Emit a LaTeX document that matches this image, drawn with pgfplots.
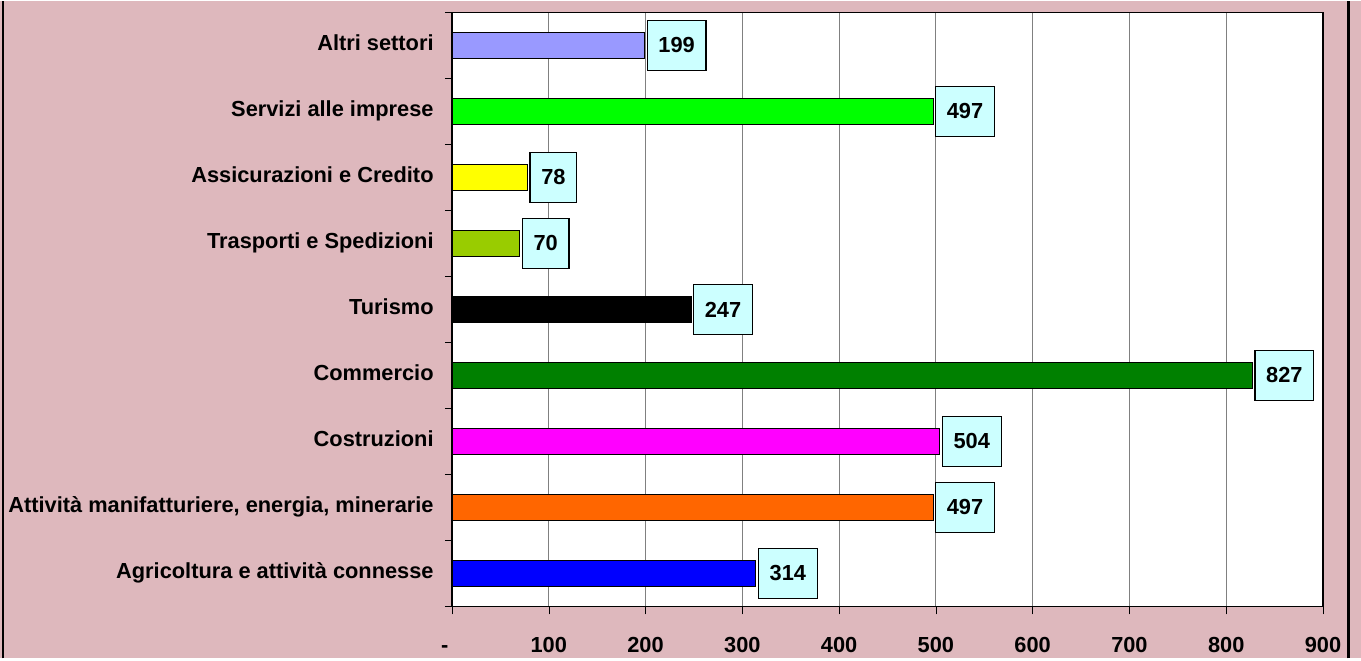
\documentclass[border=0pt]{standalone}
\usepackage{pgfplots}
\pgfplotsset{compat=1.18}
\usepackage{fontspec}
\setmainfont{Liberation Sans}
\definecolor{bgpink}{RGB}{222,184,189}
\definecolor{boxcyan}{RGB}{204,255,255}
\definecolor{cAltri}{RGB}{153,153,255}
\definecolor{cServizi}{RGB}{0,255,0}
\definecolor{cAssic}{RGB}{255,255,0}
\definecolor{cTrasp}{RGB}{153,204,0}
\definecolor{cTurismo}{RGB}{0,0,0}
\definecolor{cComm}{RGB}{0,128,0}
\definecolor{cCostr}{RGB}{255,0,255}
\definecolor{cManif}{RGB}{255,102,0}
\definecolor{cAgri}{RGB}{0,0,255}
\begin{document}
\begin{tikzpicture}
% sfondo e cornice (1 px = 0.5pt, origine = angolo sud-ovest dell'area del grafico)
\fill[bgpink] (-226pt,-26pt) rectangle (454.5pt,302.5pt);
\draw[line width=1.2pt] (-224.5pt,-26pt) -- (-224.5pt,302.5pt);
\draw[line width=1.4pt] (448.2pt,-26pt) -- (448.2pt,302.5pt);
\begin{axis}[
    at={(0pt,0pt)}, anchor=south west,
    scale only axis,
    width=435.5pt, height=297pt,
    font=\fontsize{10.9}{12.7}\selectfont\bfseries,
    /pgf/number format/assume math mode=true,
    axis background/.style={fill=white},
    xbar, bar width=13pt, bar shift=0pt,
    xmin=0, xmax=900,
    ymin=-0.5, ymax=8.5,
    xtick={0,100,...,900},
    xticklabels={\llap{-\,},100,200,300,400,500,600,700,800,900},
    ytick={0,...,8},
    yticklabels={Agricoltura e attività connesse,
        {Attività manifatturiere, energia, minerarie},
        Costruzioni, Commercio, Turismo,
        Trasporti e Spedizioni, Assicurazioni e Credito,
        Servizi alle imprese, Altri settori},
    minor ytick={-0.5,0.5,...,8.5},
    tick align=outside,
    major tick length=4pt, minor tick length=3.5pt,
    tick style={black},
    major y tick style={draw=none},
    xtick pos=bottom, ytick pos=left,
    xmajorgrids, grid style={gray, line width=0.5pt},
    axis line style={black, line width=0.6pt},
    typeset ticklabels with strut,
    xticklabel style={inner sep=0pt, anchor=north, yshift=-10pt},
    yticklabel style={inner sep=0pt, anchor=east, xshift=-5pt},
    clip=false,
    nodes near coords,
    every node near coord/.append style={anchor=west, xshift=1pt,
        fill=boxcyan, draw=black, line width=0.6pt,
        minimum height=25pt, inner xsep=5.6pt, inner ysep=0pt,
        font=\fontsize{10.9}{12.7}\selectfont\bfseries},
]
\addplot[fill=cAgri, draw=black] coordinates {(314,0)};
\addplot[fill=cManif, draw=black] coordinates {(497,1)};
\addplot[fill=cCostr, draw=black] coordinates {(504,2)};
\addplot[fill=cComm, draw=black] coordinates {(827,3)};
\addplot[fill=cTurismo, draw=black] coordinates {(247,4)};
\addplot[fill=cTrasp, draw=black] coordinates {(70,5)};
\addplot[fill=cAssic, draw=black] coordinates {(78,6)};
\addplot[fill=cServizi, draw=black] coordinates {(497,7)};
\addplot[fill=cAltri, draw=black] coordinates {(199,8)};
\end{axis}
\end{tikzpicture}
\end{document}
